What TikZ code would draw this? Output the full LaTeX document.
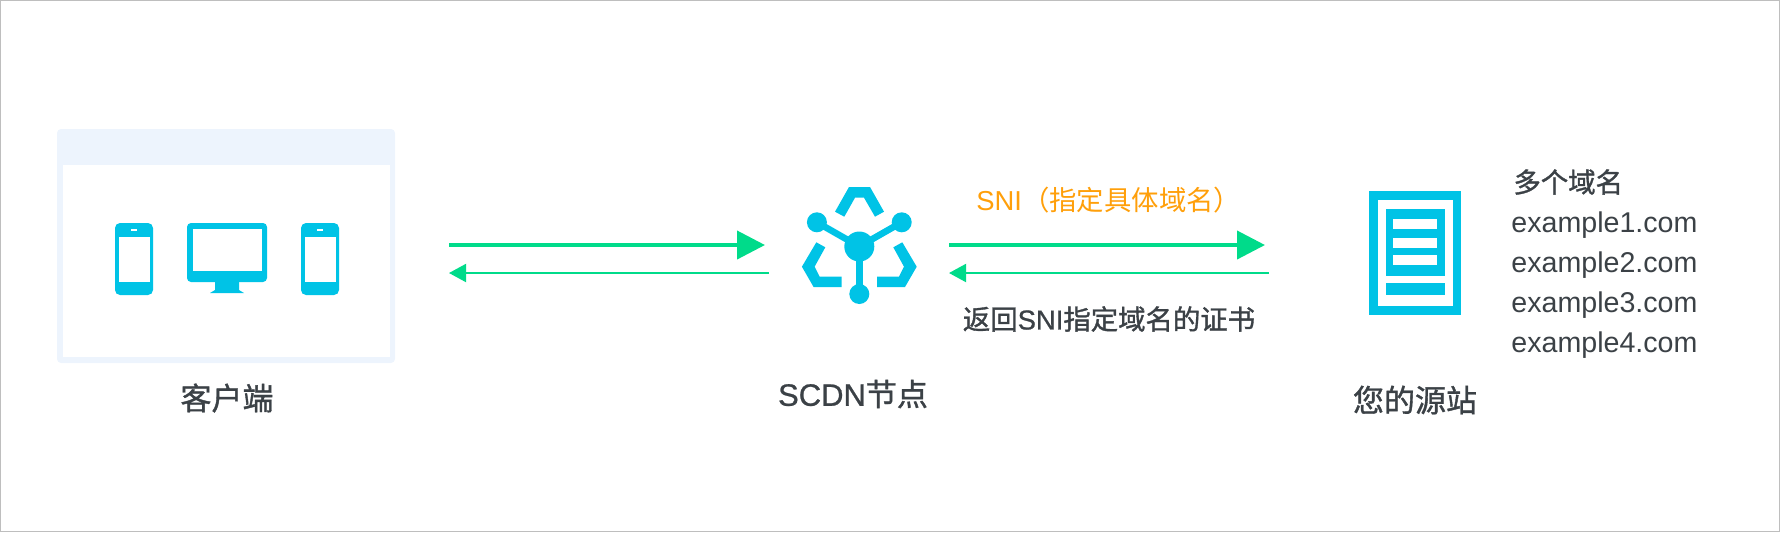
\documentclass[tikz,border=0pt]{standalone}
\usepackage{fontspec}
\setmainfont{Liberation Sans}
\newfontfamily\cjk{Noto Sans CJK SC}
\newfontfamily\cjkmed[FakeBold=1.2]{Noto Sans CJK SC}
\newfontfamily\latmed[FakeBold=0.8]{Liberation Sans}
\usetikzlibrary{arrows.meta}
\definecolor{icon}{HTML}{00C3E6}
\definecolor{pale}{HTML}{EDF4FD}
\definecolor{flow}{HTML}{00DB8A}
\definecolor{snitext}{HTML}{FF9F0A}
\definecolor{ink}{HTML}{3B4146}
\definecolor{frame}{HTML}{BEBEBE}
\tikzset{
    title/.style={inner sep=0pt, text=ink, font=\fontsize{15.5}{15.5}\selectfont\cjkmed},
    note/.style={inner sep=0pt, text=ink, font=\fontsize{13.7}{13.7}\selectfont},
    sitename/.style={inner sep=0pt, anchor=west, text=ink, font=\fontsize{14.3}{14.3}\selectfont},
    bigflow/.style={flow, line width=2pt, -{Triangle[length=14pt,width=14pt]}},
    smallflow/.style={flow, line width=1pt, -{Triangle[length=8.5pt,width=9pt]}},
}

\begin{document}
\begin{tikzpicture}[x=0.5pt,y=-0.5pt]

\useasboundingbox (0,0) rectangle (1780,532);
\draw [frame, line width=0.5pt] (0.5,0.5) rectangle (1779.5,531.5);

% browser window
\fill [pale, rounded corners=2pt] (57,129) rectangle (395,363);
\fill [white] (63,165) rectangle (390,357);

% phones
\foreach \x in {115,301} {
    \fill [icon, rounded corners=2.5pt] (\x,223) rectangle (\x+38,295);
    \fill [white] (\x+3.5,236.5) rectangle (\x+34.5,281.5);
    \fill [white] (\x+16,229) rectangle (\x+22,231);
}

% monitor
\fill [icon] (215,280) -- (239,280) -- (239,290) -- (244,293) -- (210,293) -- (215,290) -- cycle;
\fill [icon, rounded corners=2pt] (187,223) rectangle (267,282);
\fill [white] (192.5,228.5) rectangle (262,271);

% scdn logo
\coordinate (hub) at (859.3,246.5);
\coordinate (hubr) at (901.7,222.3);
\coordinate (hubl) at (816.9,222.3);
\coordinate (hubb) at (859.3,294);
\foreach \p in {hubr,hubl,hubb} {
    \draw [icon, line width=3.3pt] (hub) -- (\p);
    \fill [icon] (\p) circle [radius=10];
}
\fill [icon] (hub) circle [radius=15];
\fill [icon] (835,211.7) -- (849,187) -- (870,187) -- (884,211.7) -- (875,216.7) -- (864,197.7) -- (855,197.7) -- (844.3,216.7) -- cycle;
\fill [icon] (893.3,247.3) -- (902.3,242.3) -- (916.7,266.7) -- (905,287) -- (877,287) -- (877,276.7) -- (899,276.7) -- (904,266.7) -- cycle;
\fill [icon] (825.3,247.3) -- (816.3,242.3) -- (801.9,266.7) -- (813.6,287) -- (841.7,287) -- (841.7,276.7) -- (819.6,276.7) -- (814.6,266.7) -- cycle;

% origin server
\fill [icon] (1369,191) rectangle (1461,315);
\fill [white] (1377.5,200) rectangle (1452.5,305.5);
\fill [icon] (1385.5,208.5) rectangle (1444.5,275.5);
\foreach \y in {219,238,255} {
    \fill [white] (1393,\y) rectangle (1437,\y+10);
}
\fill [icon] (1385.5,283) rectangle (1444.5,294.5);

% arrows
\coordinate (cout) at (449,245);
\coordinate (nin) at (765,245);
\coordinate (nback) at (769,273);
\coordinate (cin) at (449,273);
\coordinate (nout) at (949,245);
\coordinate (oin) at (1265,245);
\coordinate (oback) at (1269,273);
\coordinate (nret) at (949,273);
\draw [bigflow] (cout) -- (nin);
\draw [smallflow] (nback) -- (cin);
\draw [bigflow] (nout) -- (oin);
\draw [smallflow] (oback) -- (nret);

% labels
\node [title] (client) at (227,398) {客户端};
\node [title] (scdn) at (853,394) {{\latmed SCDN}节点};
\node [title] (origin) at (1415,400) {您的源站};
\node [note, text=snitext, anchor=west] (sni) at (976,200) {SNI{\cjk （指定具体域名）}};
\node [note] (cert) at (1109,319) {{\cjkmed 返回}{\latmed SNI}{\cjkmed 指定域名的证书}};
\node [note, anchor=west] (domains) at (1513,182) {\cjkmed 多个域名};
\foreach \n/\y in {1/222,2/262,3/302,4/342} {
    \node [sitename] (ex\n) at (1511,\y+3) {example\n.com};
}

\end{tikzpicture}
\end{document}
